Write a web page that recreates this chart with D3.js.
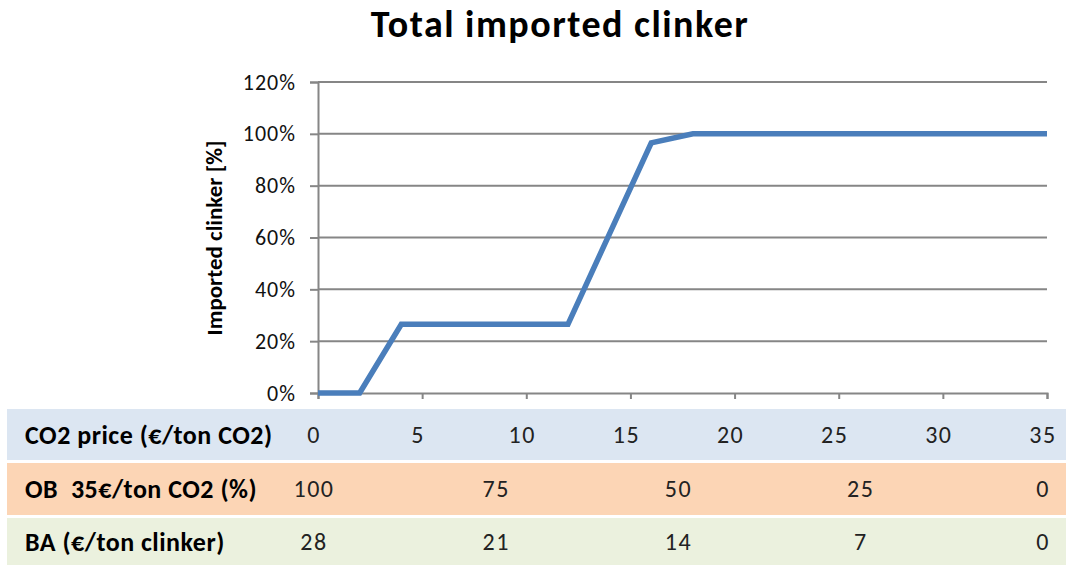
<!DOCTYPE html>
<html>
<head>
<meta charset="utf-8">
<script src="https://cdn.jsdelivr.net/npm/d3@7"></script>
<style>
  body { margin: 0; background: #fff; }
  svg { display: block; font-family: Calibri, Carlito, Lato, sans-serif; }
</style>
</head>
<body>
<svg id="chart" width="1066" height="565"></svg>
<script>
// CO2 price (x) vs imported clinker share (y)
const co2Price = [0, 2, 4, 12, 16, 18, 35];
const imported = [0, 0, 0.265, 0.265, 0.965, 1.0, 1.0];

const yTicks = [0, 0.2, 0.4, 0.6, 0.8, 1.0, 1.2];
const xTicks = [0, 5, 10, 15, 20, 25, 30, 35];

// table rows
const rowLabels = ["CO2 price (€/ton CO2)", "OB  35€/ton CO2 (%)", "BA (€/ton clinker)"];
const rowColors = ["#dce6f2", "#fcd5b5", "#ebf1de"];
const obValues = [100, 75, 50, 25, 0];
const baValues = [28, 21, 14, 7, 0];
const obAtPrice = [0, 8.75, 17.5, 26.25, 35];

const svg = d3.select("#chart");

const x = d3.scaleLinear().domain([0, 35]).range([318, 1047]);
const y = d3.scaleLinear().domain([0, 1.2]).range([393, 82]);

svg.append("text")
    .attr("x", 560)
    .attr("y", 37)
    .attr("text-anchor", "middle")
    .attr("font-size", 38)
    .attr("font-weight", "bold")
    .attr("letter-spacing", 1.5)
    .text("Total imported clinker");

// gridlines
svg.append("g")
    .selectAll("line")
    .data(yTicks.slice(1))
    .join("line")
    .attr("x1", x(0))
    .attr("x2", x(35))
    .attr("y1", d => y(d))
    .attr("y2", d => y(d))
    .attr("stroke", "#868686")
    .attr("stroke-width", 2);

const yAxis = svg.append("g")
    .attr("transform", "translate(" + x(0) + ",0)")
    .call(d3.axisLeft(y).tickValues(yTicks).tickFormat(d3.format(".0%")).tickSize(8).tickPadding(14));

const xAxis = svg.append("g")
    .attr("transform", "translate(0," + y(0) + ")")
    .call(d3.axisBottom(x).tickValues(xTicks).tickFormat("").tickSize(6));

[yAxis, xAxis].forEach(g => {
    g.select(".domain").attr("stroke", "#868686").attr("stroke-width", 2);
    g.selectAll(".tick line").attr("stroke", "#868686").attr("stroke-width", 2);
});
yAxis.selectAll("text")
    .attr("font-size", 22)
    .attr("letter-spacing", 1)
    .attr("fill", "#111")
    .attr("font-family", "Calibri, Carlito, Lato, sans-serif");

svg.append("text")
    .attr("transform", "translate(222,238) rotate(-90)")
    .attr("text-anchor", "middle")
    .attr("font-size", 23)
    .attr("font-weight", "bold")
    .text("Imported clinker [%]");

const line = d3.line()
    .x((d, i) => x(co2Price[i]))
    .y(d => y(d));

svg.append("path")
    .datum(imported)
    .attr("fill", "none")
    .attr("stroke", "#4a7ebb")
    .attr("stroke-width", 5.5)
    .attr("d", line);

// table under the chart
const rowTop = [409, 463, 518];
const rowH = [51, 52, 47];

svg.append("g")
    .selectAll("rect")
    .data(rowColors)
    .join("rect")
    .attr("x", 7)
    .attr("y", (d, i) => rowTop[i])
    .attr("width", 1059)
    .attr("height", (d, i) => rowH[i])
    .attr("fill", d => d);

svg.append("g")
    .selectAll("text")
    .data(rowLabels)
    .join("text")
    .attr("x", 25)
    .attr("y", (d, i) => rowTop[i] + rowH[i] / 2)
    .attr("dy", "0.35em")
    .attr("font-size", 26)
    .attr("font-weight", "bold")
    .attr("letter-spacing", 0.5)
    .style("white-space", "pre")
    .text(d => d);

const cell = (vals, pos, row) => svg.append("g")
    .selectAll("text")
    .data(vals)
    .join("text")
    .attr("x", (d, i) => x(pos[i]) - 4)
    .attr("y", rowTop[row] + rowH[row] / 2)
    .attr("dy", "0.35em")
    .attr("text-anchor", "middle")
    .attr("font-size", 24)
    .attr("letter-spacing", 1.5)
    .attr("fill", "#222")
    .text(d => d);

cell(xTicks, xTicks, 0);
cell(obValues, obAtPrice, 1);
cell(baValues, obAtPrice, 2);
</script>
</body>
</html>
